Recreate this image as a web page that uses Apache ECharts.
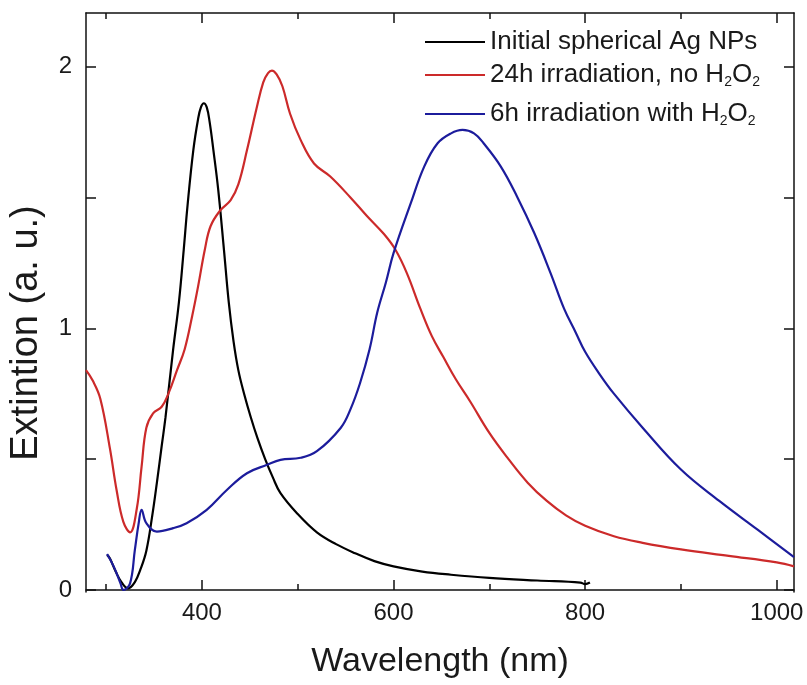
<!DOCTYPE html>
<html>
<head>
<meta charset="utf-8">
<script src="https://cdn.jsdelivr.net/npm/echarts@6/dist/echarts.min.js"></script>
<style>
html,body{margin:0;padding:0;background:#fff;}
#chart{width:807px;height:685px;}
</style>
</head>
<body>
<div id="chart"></div>
<script>
// ---- data ----
const seriesNames = ['Initial spherical Ag NPs', '24h irradiation, no H2O2', '6h irradiation with H2O2'];
const legendLabels = ['Initial spherical Ag NPs', '24h irradiation, no H{s|2}O{s|2}', '6h irradiation with H{s|2}O{s|2}'];

const wlBlack = [301,304,310,316,323,330,336,342,348,353,358,362,370,376,381,385,391,396,399,402,405,408,412,417,423,428,433,438,444,451,458,466,474,482,500,520,540,560,580,600,630,660,700,750,795,800,805];
const extBlack = [0.134,0.12,0.07,0.03,0.006,0.03,0.08,0.15,0.28,0.41,0.55,0.66,0.92,1.10,1.30,1.47,1.68,1.80,1.845,1.86,1.845,1.79,1.68,1.53,1.30,1.10,0.95,0.84,0.75,0.66,0.58,0.50,0.43,0.37,0.29,0.22,0.175,0.14,0.11,0.09,0.07,0.058,0.046,0.036,0.028,0.022,0.028];

const wlRed = [279,286,294,304,311,318,325,332,337,342,349,358,365,374,382,390,396,403,409,419,430,438,447,457,464,469,473,478,484,492,503,517,534,555,572,590,602,614,628,640,652,665,680,700,720,740,760,780,800,830,860,900,950,1000,1018];
const extRed = [0.84,0.80,0.73,0.54,0.38,0.26,0.22,0.31,0.47,0.62,0.675,0.70,0.75,0.84,0.92,1.05,1.16,1.30,1.39,1.45,1.49,1.55,1.68,1.84,1.94,1.975,1.985,1.97,1.925,1.82,1.72,1.63,1.58,1.50,1.43,1.36,1.30,1.21,1.075,0.97,0.89,0.805,0.72,0.60,0.50,0.41,0.34,0.285,0.245,0.205,0.18,0.155,0.13,0.105,0.09];

const wlBlue = [301,308,315,318,325,330,334,337,342,353,370,384,405,426,447,468,482,503,520,545,555,565,575,583,592,600,618,632,646,660,672,684,694,712,729,747,764,778,790,800,815,830,860,900,940,980,1018];
const extBlue = [0.137,0.089,0.025,0.0,0.025,0.153,0.255,0.306,0.255,0.223,0.236,0.255,0.306,0.382,0.446,0.478,0.497,0.505,0.53,0.62,0.69,0.79,0.92,1.06,1.175,1.287,1.478,1.618,1.707,1.745,1.758,1.745,1.707,1.618,1.503,1.363,1.21,1.075,0.985,0.91,0.825,0.75,0.62,0.46,0.34,0.23,0.125];

const xMajorTicks = [400, 600, 800, 1000];
const xMinorTicks = [300, 500, 700, 900];
const yTicks = [0, 0.5, 1, 1.5, 2];
const yLabels = [0, 1, 2];

const xTitle = 'Wavelength (nm)';
const yTitle = 'Extintion (a. u.)';

// ---- chart ----
const FONT = '"Liberation Sans", Arial, sans-serif';
const colors = ['#000000', '#cc2a2a', '#1c1c9c'];
const zip = (a, b) => a.map((v, i) => [v, b[i]]);
const dataSets = [zip(wlBlack, extBlack), zip(wlRed, extRed), zip(wlBlue, extBlue)];

const X_MIN = 279, X_MAX = 1018, Y_MIN = -0.008, Y_MAX = 2.205;
const frame = { lineStyle: { color: '#111', width: 1.5 } };

function xAx(pos, ticks, len, showLine, showLabel, extra) {
  return Object.assign({
    type: 'value', position: pos, min: X_MIN, max: X_MAX,
    axisLine: Object.assign({ show: showLine }, frame),
    axisTick: { show: true, inside: true, length: len, customValues: ticks, lineStyle: { color: '#111', width: 1.5 } },
    axisLabel: showLabel ? { show: true, customValues: ticks, formatter: v => String(v), fontSize: 24, fontFamily: FONT, color: '#1a1a1a', margin: 9 } : { show: false },
    splitLine: { show: false }
  }, extra || {});
}
function yAx(pos, showLabel) {
  return {
    type: 'value', position: pos, min: Y_MIN, max: Y_MAX,
    axisLine: Object.assign({ show: true }, frame),
    axisTick: { show: true, inside: true, length: 10, customValues: yTicks, lineStyle: { color: '#111', width: 1.5 } },
    axisLabel: showLabel ? { show: true, customValues: yLabels, formatter: v => String(v), fontSize: 24, fontFamily: FONT, color: '#1a1a1a', margin: 14 } : { show: false },
    splitLine: { show: false }
  };
}

const rowCenters = [42, 75, 114];

const option = {
  backgroundColor: '#ffffff',
  animation: false,
  grid: { left: 86, right: 13, top: 13, bottom: 93, containLabel: false },
  xAxis: [
    xAx('bottom', xMajorTicks, 10, true, true, {
      name: xTitle, nameLocation: 'middle', nameGap: 53,
      nameTextStyle: { fontSize: 34, fontFamily: FONT, color: '#1a1a1a' }
    }),
    xAx('bottom', xMinorTicks, 6, false, false),
    xAx('top', xMajorTicks, 10, true, false),
    xAx('top', xMinorTicks, 6, false, false)
  ],
  yAxis: [yAx('left', true), yAx('right', false)],
  legend: legendLabels.map((lab, i) => ({
    data: [seriesNames[i]],
    left: 425, top: rowCenters[i] - 14,
    orient: 'vertical', padding: 0, itemGap: 0,
    itemWidth: 60, itemHeight: 2, icon: 'rect',
    formatter: () => lab,
    textStyle: {
      fontSize: 26, fontFamily: FONT, color: '#1a1a1a', lineHeight: 28,
      rich: { s: { fontSize: 14, fontFamily: FONT, color: '#1a1a1a', lineHeight: 1, verticalAlign: 'bottom' } }
    }
  })),
  graphic: [{
    type: 'text', x: 27, y: 333, rotation: Math.PI / 2,
    style: { text: yTitle, fontSize: 38, fontFamily: FONT, fill: '#1a1a1a', align: 'center', verticalAlign: 'middle' }
  }],
  series: seriesNames.map((n, i) => ({
    name: n, type: 'line', xAxisIndex: 0, yAxisIndex: 0,
    data: dataSets[i], showSymbol: false, symbol: 'none',
    smooth: 0.4, color: colors[i],
    lineStyle: { color: colors[i], width: 2.2 },
    itemStyle: { color: colors[i] }
  }))
};

const chart = echarts.init(document.getElementById('chart'), null, { renderer: 'canvas' });
chart.setOption(option);
</script>
</body>
</html>
